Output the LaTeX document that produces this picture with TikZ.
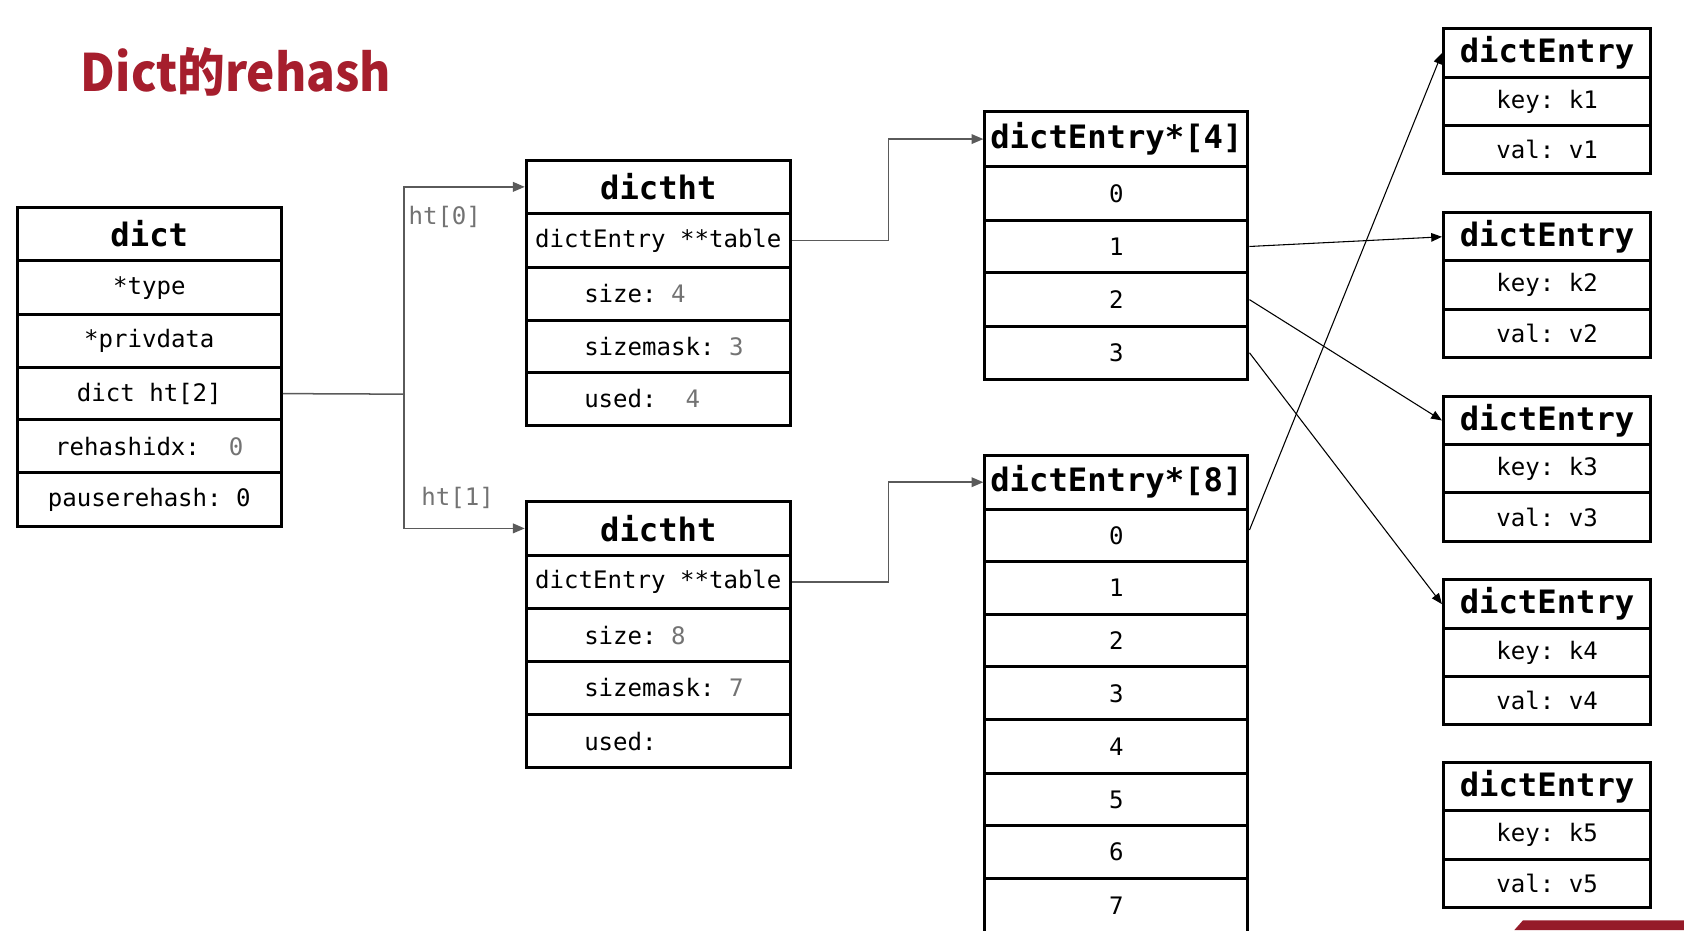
\documentclass[tikz,border=0pt]{standalone}
\usepackage{fontspec}
\usetikzlibrary{arrows.meta,calc}
\setmonofont{DejaVu Sans Mono}
\newfontfamily\cjkfont{Noto Sans CJK SC}
\definecolor{titlered}{RGB}{166,30,45}
\definecolor{numgray}{RGB}{115,115,115}
\definecolor{linegray}{RGB}{90,90,90}
\newcommand\boxcell[7]{\node[cell,#6,minimum width={((#4)-(#2))*0.5pt},minimum height={((#5)-(#3))*0.5pt}] (#1) at ({((#2)+(#4))/2},{((#3)+(#5))/2}) {#7};}
\newcommand\gr[1]{\textcolor{numgray}{#1}}
\tikzset{
  cell/.style={draw=black, line width=1.4pt, inner sep=0.5pt, fill=white,
    font=\ttfamily\fontsize{11.2pt}{13pt}\selectfont},
  head/.style={font=\ttfamily\bfseries\fontsize{15pt}{18pt}\selectfont},
  txt/.style={anchor=west, inner sep=0pt, font=\ttfamily\fontsize{11.2pt}{13pt}\selectfont},
  conn/.style={draw=linegray, line width=0.7pt},
  tip/.style={-{Triangle[length=5.5pt,width=4.5pt]}},
  diag/.style={draw=black, line width=0.5pt, -{Triangle[length=5pt,width=4pt]}}
}
\begin{document}
\begin{tikzpicture}[x=0.5pt,y=-0.5pt]
\useasboundingbox (0,0) rectangle (1568,866);
\fill[white] (0,0) rectangle (1568,866);
% title
\node[anchor=base west, inner sep=0pt, text=titlered,
  font=\cjkfont\bfseries\fontsize{24pt}{30pt}\selectfont] (title) at (75,85) {\scalebox{0.925}[1]{Dict的rehash}};
% dict
\boxcell{dict-h}{16}{193}{262}{243}{head}{dict}
\boxcell{dict-1}{16}{243}{262}{293}{}{*type}
\boxcell{dict-2}{16}{293}{262}{342}{}{*privdata}
\boxcell{dict-3}{16}{342}{262}{391}{}{dict ht[2]}
\boxcell{dict-4}{16}{391}{262}{440}{}{rehashidx:~~\gr{0}}
\boxcell{dict-5}{16}{440}{262}{490}{}{pauserehash:~0}
% dictht 0
\boxcell{ht0-h}{490}{149}{736}{199}{head}{dictht}
\boxcell{ht0-t}{490}{199}{736}{249}{}{dictEntry~**table}
\boxcell{ht0-s}{490}{249}{736}{298}{}{}
\boxcell{ht0-m}{490}{298}{736}{347}{}{}
\boxcell{ht0-u}{490}{347}{736}{396}{}{}
\node[txt] (ht0-st) at ([xshift=27.5pt]ht0-s.west) {size:~\gr{4}};
\node[txt] (ht0-mt) at ([xshift=27.5pt]ht0-m.west) {sizemask:~\gr{3}};
\node[txt] (ht0-ut) at ([xshift=27.5pt]ht0-u.west) {used:~~\gr{4}};
% dictht 1
\boxcell{ht1-h}{490}{467}{736}{517}{head}{dictht}
\boxcell{ht1-t}{490}{517}{736}{567}{}{dictEntry~**table}
\boxcell{ht1-s}{490}{567}{736}{616}{}{}
\boxcell{ht1-m}{490}{616}{736}{665}{}{}
\boxcell{ht1-u}{490}{665}{736}{715}{}{}
\node[txt] (ht1-st) at ([xshift=27.5pt]ht1-s.west) {size:~\gr{8}};
\node[txt] (ht1-mt) at ([xshift=27.5pt]ht1-m.west) {sizemask:~\gr{7}};
\node[txt] (ht1-ut) at ([xshift=27.5pt]ht1-u.west) {used:};
% dictEntry*[4]
\boxcell{a4-h}{917}{104}{1162}{155}{head}{dictEntry*[4]}
\boxcell{a4-0}{917}{155}{1162}{205}{}{0}
\boxcell{a4-1}{917}{205}{1162}{254}{}{1}
\boxcell{a4-2}{917}{254}{1162}{304}{}{2}
\boxcell{a4-3}{917}{304}{1162}{353}{}{3}
% dictEntry*[8]
\boxcell{a8-h}{917}{424}{1162}{474}{head}{dictEntry*[8]}
\boxcell{a8-0}{917}{474}{1162}{523}{}{0}
\boxcell{a8-1}{917}{523}{1162}{572}{}{1}
\boxcell{a8-2}{917}{572}{1162}{621}{}{2}
\boxcell{a8-3}{917}{621}{1162}{670}{}{3}
\boxcell{a8-4}{917}{670}{1162}{720}{}{4}
\boxcell{a8-5}{917}{720}{1162}{769}{}{5}
\boxcell{a8-6}{917}{769}{1162}{818}{}{6}
\boxcell{a8-7}{917}{818}{1162}{868}{}{7}
% dictEntry nodes
\foreach \i/\t in {1/27,2/198,3/369,4/540,5/710}{
  \boxcell{e\i-h}{1344}{\t}{1537}{\t+45}{head}{dictEntry}
  \boxcell{e\i-k}{1344}{\t+45}{1537}{\t+90}{}{key:~k\i}
  \boxcell{e\i-v}{1344}{\t+90}{1537}{\t+135}{}{val:~v\i}
}
% connectors
\coordinate (split) at (376,367);
\draw[conn] (dict-3.east) -- (split);
\draw[conn,tip] (split) |- (ht0-h.west);
\draw[conn,tip] (split) |- (ht1-h.west);
\node[txt, text=numgray] (lbl0) at (380,202) {ht[0]};
\node[txt, text=numgray] (lbl1) at (392,464) {ht[1]};
\draw[conn,tip] (ht0-t.east) -- ++(45pt,0) |- (a4-h.west);
\draw[conn,tip] (ht1-t.east) -- ++(45pt,0) |- (a8-h.west);
\draw[diag] (a4-1.east) -- (e2-h.west);
\draw[diag] (a4-2.east) -- (e3-h.west);
\draw[diag] (a4-3.east) -- (e4-h.west);
\draw[diag] ([yshift=2.5pt]a8-0.east) -- (e1-h.west);
% bottom red bar
\fill[titlered!90!black] (1418,857) -- (1568,857) -- (1568,866) -- (1410,866) -- cycle;
\end{tikzpicture}
\end{document}
